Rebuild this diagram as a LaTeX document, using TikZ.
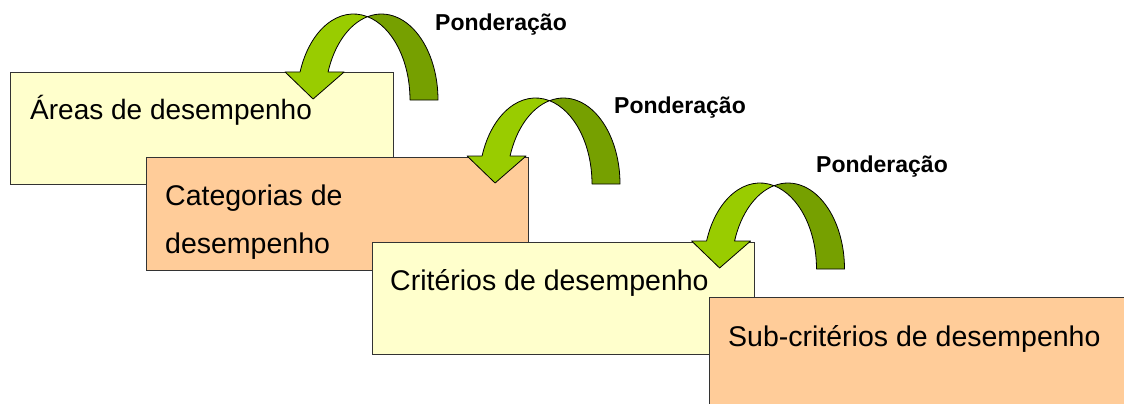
\documentclass[tikz,border=0pt]{standalone}
\usepackage{fontspec}
\setmainfont{Liberation Sans}
\usetikzlibrary{positioning}
\definecolor{paleyellow}{HTML}{FFFFCC}
\definecolor{paleorange}{HTML}{FFCC99}
\definecolor{leafgreen}{HTML}{99CC00}
\definecolor{darkleaf}{HTML}{76A000}
\definecolor{boxline}{HTML}{333333}
\tikzstyle{block} = [rectangle, draw=boxline, line width=1.3pt, anchor=north west, inner sep=0pt]
\tikzstyle{blocktext} = [anchor=base west, inner sep=0pt, align=left, font=\fontsize{28.5}{48}\selectfont]
\tikzstyle{weight} = [anchor=base, inner sep=0pt, font=\fontsize{23}{28}\selectfont\bfseries]
\tikzstyle{curvearrow} = [draw=black, line width=0.8pt, line join=round]
\newcommand{\ponderarrow}[2]{%
	\begin{scope}[shift={(#1,#2)}]
		\filldraw [curvearrow, fill=darkleaf] (14,-83.3) arc[start angle=-104.35, end angle=0, x radius=56.5, y radius=86] -- (56.5,0) arc[start angle=0, end angle=-75.65, x radius=56.5, y radius=86] -- cycle;
		\filldraw [curvearrow, fill=leafgreen] (-53.42,-28) -- (-68.4,-28) -- (-40.4,-1) -- (-9.4,-28) -- (-25.42,-28) arc[start angle=-161, end angle=-104.35, x radius=56.5, y radius=86] arc[start angle=-75.65, end angle=-161, x radius=56.5, y radius=86] -- cycle;
	\end{scope}}

\begin{document}
\begin{tikzpicture}[x=1pt, y=-1pt]
		\clip (0,0) rectangle (1124,404);
		\node (Areas) [block, fill=paleyellow, minimum width=383, minimum height=112] at (10,72) {};
		\node (AreasText) [blocktext, font=\fontsize{28}{48}\selectfont] at ([shift={(20,47)}]Areas.north west) {Áreas de desempenho};
		\ponderarrow{353.5}{100}
		\node (Categorias) [block, fill=paleorange, minimum width=382, minimum height=113] at (146,157) {};
		\node (CategoriasText) [blocktext] at ([shift={(19,96)}]Categorias.north west) {Categorias de\\desempenho};
		\ponderarrow{535.5}{184}
		\node (Criterios) [block, fill=paleyellow, minimum width=382, minimum height=112] at (372,242) {};
		\node (CriteriosText) [blocktext] at ([shift={(18,48)}]Criterios.north west) {Critérios de desempenho};
		\ponderarrow{760}{269}
		\node (SubCriterios) [block, fill=paleorange, minimum width=440, minimum height=130] at (709,297) {};
		\node (SubCriteriosText) [blocktext] at ([shift={(19,49)}]SubCriterios.north west) {Sub-critérios de desempenho};
		\node (Ponderacao1) [weight] at (501,31) {Ponderação};
		\node (Ponderacao2) [weight] at (680,113) {Ponderação};
		\node (Ponderacao3) [weight] at (882,172) {Ponderação};
\end{tikzpicture}
\end{document}
